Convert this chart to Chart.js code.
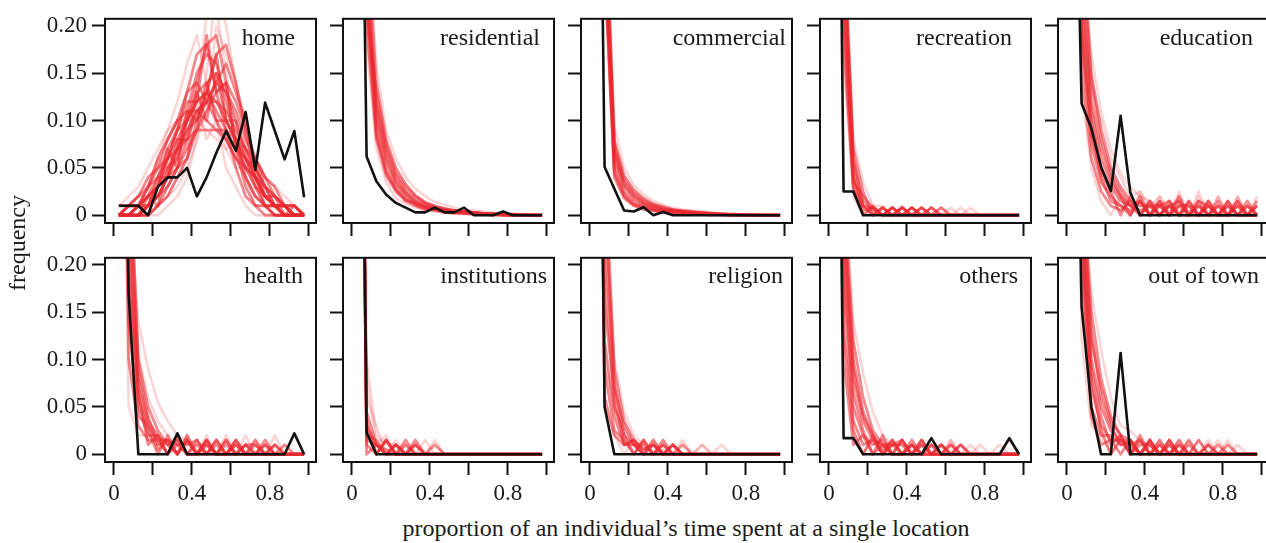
<!DOCTYPE html>
<html>
<head>
<meta charset="utf-8">
<script src="https://cdn.jsdelivr.net/npm/chart.js@4.4.1/dist/chart.umd.min.js"></script>
<style>
  html, body { margin: 0; padding: 0; background: #fff; overflow: hidden; }
  #wrap { position: relative; width: 1266px; height: 543px; overflow: hidden; }
  canvas { position: absolute; }
  .lbl { position: absolute; font-family: "Liberation Serif", "Times New Roman", serif; color: #1a1a1a;
         white-space: nowrap; font-size: 24px; line-height: 24px; }
</style>
</head>
<body>
<div id="wrap"></div>
<script>
// bin centres on the x axis (proportion of time)
const bins = [0.025,0.075,0.125,0.175,0.225,0.275,0.325,0.375,0.425,0.475,0.525,0.575,0.625,0.675,0.725,0.775,0.825,0.875,0.925,0.975];
const xTicks = [0, 0.2, 0.4, 0.6, 0.8, 1.0];
const xTickLabels = ["0", "", "0.4", "", "0.8", ""];
const yTicks = [0, 0.05, 0.1, 0.15, 0.2];
const yTickLabels = ["0", "0.05", "0.10", "0.15", "0.20"];
const categories = ["home","residential","commercial","recreation","education","health","institutions","religion","others","out of town"];

// observed frequencies (black)
const obs_home = [0.01,0.01,0.01,0,0.03, 0.04,0.04,0.05,0.02,0.04, 0.066,0.089,0.068,0.109,0.048, 0.119,0.089,0.059,0.089,0.019];
const obs_residential = [0.82,0.062,0.036,0.022,0.013, 0.008,0.003,0.003,0.008,0.003, 0.003,0.008,0,0,0, 0.004,0,0,0,0];
const obs_commercial = [0.9,0.051,0.028,0.005,0.004, 0.0085,0,0.0034,0,0, 0,0,0,0,0, 0,0,0,0,0];
const obs_recreation = [0.95,0.025,0.025,0,0, 0,0,0,0,0, 0,0,0,0,0, 0,0,0,0,0];
const obs_education = [0.58,0.118,0.092,0.051,0.0255, 0.105,0.024,0,0,0, 0,0,0,0,0, 0,0,0,0,0];
const obs_health = [0.786,0.17,0,0,0, 0,0.022,0,0,0, 0,0,0,0,0, 0,0,0,0.022,0];
const obs_institutions = [0.977,0.023,0,0,0, 0,0,0,0,0, 0,0,0,0,0, 0,0,0,0,0];
const obs_religion = [0.95,0.05,0,0,0, 0,0,0,0,0, 0,0,0,0,0, 0,0,0,0,0];
const obs_others = [0.932,0.017,0.017,0,0, 0,0,0,0,0, 0.017,0,0,0,0, 0,0,0,0.017,0];
const obs_outOfTown = [0.687,0.156,0.05,0,0, 0.107,0,0,0,0, 0,0,0,0,0, 0,0,0,0,0];

// simulated frequencies (red)
const sim_home = [
  [0,0,0.01,0.02,0.03, 0.05,0.07,0.09,0.11,0.12, 0.12,0.11,0.09,0.07,0.05, 0.03,0.02,0.01,0,0],
  [0,0,0,0.01,0.02, 0.04,0.07,0.11,0.15,0.17, 0.16,0.12,0.08,0.04,0.02, 0.01,0,0,0,0],
  [0,0.01,0.02,0.03,0.05, 0.08,0.1,0.13,0.14,0.12, 0.1,0.08,0.06,0.04,0.02, 0.01,0.01,0,0,0],
  [0,0,0,0.01,0.02, 0.03,0.05,0.07,0.09,0.11, 0.13,0.14,0.12,0.09,0.06, 0.04,0.02,0.01,0.01,0],
  [0.01,0.01,0.02,0.04,0.05, 0.06,0.07,0.08,0.09,0.09, 0.09,0.09,0.08,0.07,0.06, 0.04,0.03,0.01,0.01,0],
  [0,0,0.01,0.01,0.04, 0.04,0.08,0.08,0.13,0.1, 0.15,0.1,0.1,0.06,0.05, 0.02,0.02,0,0,0],
  [0,0,0,0.02,0.01, 0.05,0.06,0.1,0.12,0.19, 0.13,0.14,0.07,0.06,0.03, 0.01,0.01,0,0,0],
  [0,0.01,0.01,0.02,0.03, 0.07,0.05,0.11,0.1,0.13, 0.17,0.1,0.08,0.05,0.04, 0.01,0.01,0.01,0,0],
  [0,0,0.01,0.01,0.03, 0.06,0.09,0.1,0.13,0.14, 0.1,0.1,0.08,0.06,0.04, 0.02,0.01,0,0.01,0],
  [0,0,0,0,0.01, 0.03,0.05,0.06,0.1,0.12, 0.14,0.16,0.13,0.1,0.05, 0.03,0.01,0.01,0,0],
  [0,0,0.01,0.02,0.04, 0.06,0.08,0.1,0.12,0.13, 0.12,0.1,0.08,0.06,0.04, 0.02,0.01,0.01,0,0],
  [0,0,0,0.01,0.03, 0.04,0.06,0.09,0.1,0.14, 0.15,0.13,0.1,0.07,0.04, 0.02,0.01,0.01,0,0],
  [0,0.01,0.01,0.03,0.04, 0.07,0.09,0.12,0.12,0.13, 0.11,0.09,0.07,0.05,0.03, 0.02,0.01,0,0,0],
  [0,0,0,0.01,0.02, 0.04,0.05,0.08,0.11,0.12, 0.14,0.13,0.11,0.08,0.06, 0.03,0.01,0.01,0,0],
  [0,0,0,0.01,0.02, 0.04,0.07,0.1,0.14,0.18, 0.19,0.14,0.07,0.03,0.01, 0,0,0,0,0],
  [0,0,0.01,0.02,0.03, 0.06,0.09,0.13,0.17,0.18, 0.13,0.09,0.05,0.02,0.01, 0.01,0,0,0,0],
  [0,0,0,0,0.01, 0.02,0.04,0.06,0.09,0.13, 0.17,0.18,0.14,0.09,0.04, 0.02,0.01,0,0,0],
  [0,0.01,0.01,0.03,0.06, 0.08,0.1,0.11,0.11,0.1, 0.09,0.08,0.06,0.05,0.04, 0.03,0.02,0.01,0.01,0]
];
const simFaint_home = [
  [0,0,0.01,0.03,0.06, 0.09,0.12,0.16,0.19,0.14, 0.1,0.05,0.03,0.01,0, 0,0,0,0,0],
  [0,0,0,0,0.01, 0.02,0.03,0.05,0.08,0.11, 0.2,0.17,0.14,0.1,0.05, 0.02,0.01,0,0,0],
  [0.01,0.01,0.02,0.02,0.06, 0.05,0.1,0.07,0.12,0.08, 0.1,0.07,0.08,0.05,0.06, 0.04,0.03,0.02,0.01,0],
  [0,0,0,0.01,0.01, 0.02,0.04,0.06,0.13,0.21, 0.22,0.15,0.09,0.04,0.01, 0.01,0,0,0,0],
  [0,0,0,0,0, 0.01,0.02,0.04,0.08,0.15, 0.24,0.2,0.14,0.08,0.03, 0.01,0,0,0,0],
  [0.01,0.02,0.03,0.05,0.07, 0.09,0.1,0.1,0.1,0.09, 0.08,0.07,0.05,0.05,0.03, 0.02,0.02,0.01,0.01,0]
];
const sim_residential = [
  [0.55,0.25,0.1,0.055,0.032, 0.02,0.012,0.008,0.006,0.004, 0.003,0.002,0.002,0.001,0.001, 0,0,0,0,0],
  [0.5,0.22,0.13,0.075,0.045, 0.03,0.02,0.013,0.009,0.007, 0.005,0.004,0.003,0.002,0.001, 0.001,0.001,0,0,0],
  [0.6,0.2,0.08,0.042,0.025, 0.015,0.01,0.006,0.007,0.003, 0.004,0.002,0.003,0.001,0.001, 0.001,0,0,0,0],
  [0.48,0.28,0.115,0.065,0.038, 0.024,0.015,0.01,0.007,0.005, 0.003,0.004,0.002,0.001,0.002, 0,0.001,0,0,0],
  [0.57,0.24,0.09,0.048,0.028, 0.017,0.011,0.007,0.005,0.003, 0.002,0.002,0.001,0.001,0, 0.001,0,0,0,0],
  [0.45,0.3,0.14,0.08,0.05, 0.033,0.021,0.014,0.01,0.007, 0.005,0.004,0.003,0.002,0.002, 0.001,0.001,0.001,0,0],
  [0.52,0.26,0.105,0.06,0.035, 0.022,0.014,0.009,0.008,0.005, 0.004,0.003,0.002,0.002,0.001, 0.001,0,0,0,0],
  [0.53,0.23,0.12,0.07,0.042, 0.026,0.017,0.012,0.008,0.006, 0.005,0.003,0.003,0.002,0.001, 0.001,0.001,0,0,0],
  [0.58,0.22,0.085,0.045,0.027, 0.016,0.013,0.009,0.006,0.005, 0.003,0.003,0.002,0.001,0.001, 0,0,0,0,0]
];
const simFaint_residential = [
  [0.4,0.32,0.16,0.09,0.06, 0.04,0.028,0.02,0.014,0.011, 0.008,0.006,0.005,0.004,0.003, 0.002,0.002,0.001,0.001,0],
  [0.65,0.18,0.07,0.035,0.018, 0.012,0.008,0.005,0.004,0.003, 0.002,0.001,0.001,0,0, 0,0,0,0,0]
];
const sim_commercial = [
  [0.6,0.3,0.055,0.025,0.015, 0.01,0.007,0.005,0.004,0.003, 0.002,0.002,0.001,0.001,0.001, 0,0,0,0,0],
  [0.55,0.32,0.07,0.035,0.022, 0.014,0.01,0.007,0.005,0.004, 0.003,0.002,0.002,0.001,0.001, 0.001,0,0,0,0],
  [0.65,0.26,0.04,0.018,0.01, 0.006,0.005,0.003,0.003,0.002, 0.001,0.001,0,0.001,0, 0,0,0,0,0],
  [0.5,0.35,0.08,0.042,0.027, 0.018,0.012,0.009,0.006,0.005, 0.004,0.003,0.002,0.002,0.001, 0.001,0.001,0,0,0],
  [0.62,0.27,0.048,0.022,0.012, 0.009,0.006,0.004,0.003,0.003, 0.002,0.001,0.001,0,0, 0,0,0,0,0],
  [0.58,0.29,0.062,0.03,0.018, 0.012,0.008,0.006,0.004,0.003, 0.003,0.002,0.001,0.001,0.001, 0,0,0,0,0],
  [0.57,0.3,0.066,0.032,0.02, 0.013,0.009,0.006,0.005,0.004, 0.003,0.002,0.002,0.001,0.001, 0,0,0,0,0],
  [0.63,0.27,0.044,0.02,0.011, 0.008,0.005,0.004,0.003,0.002, 0.002,0.001,0.001,0.001,0, 0,0,0,0,0],
  [0.52,0.33,0.075,0.038,0.024, 0.016,0.011,0.008,0.006,0.004, 0.003,0.003,0.002,0.001,0.001, 0.001,0,0,0,0]
];
const simFaint_commercial = [
  [0.45,0.36,0.095,0.05,0.032, 0.022,0.015,0.011,0.008,0.006, 0.005,0.004,0.003,0.002,0.002, 0.001,0.001,0.001,0,0]
];
const sim_recreation = [
  [0.7,0.25,0.04,0.01,0, 0.008,0,0.008,0,0, 0,0,0,0,0, 0,0,0,0,0],
  [0.65,0.28,0.055,0.015,0.005, 0,0.008,0,0.008,0, 0,0,0,0,0, 0,0,0,0,0],
  [0.75,0.21,0.028,0.005,0.008, 0,0,0.008,0,0.008, 0,0,0,0,0, 0,0,0,0,0],
  [0.6,0.3,0.07,0.025,0, 0.008,0,0,0.008,0, 0.008,0,0,0,0, 0,0,0,0,0],
  [0.68,0.26,0.035,0.02,0.008, 0,0.008,0,0,0, 0,0,0,0,0, 0,0,0,0,0],
  [0.72,0.22,0.045,0,0.01, 0,0.008,0,0.008,0, 0,0.008,0,0,0, 0,0,0,0,0],
  [0.62,0.29,0.06,0.01,0.008, 0,0,0.008,0,0, 0.008,0,0,0,0, 0,0,0,0,0],
  [0.78,0.18,0.03,0.01,0, 0.008,0,0,0,0.008, 0,0,0,0,0, 0,0,0,0,0]
];
const simFaint_recreation = [
  [0.55,0.32,0.08,0.035,0.01, 0.01,0,0.01,0,0.008, 0,0.008,0,0.008,0, 0,0,0,0,0],
  [0.8,0.16,0.02,0,0.008, 0,0.008,0,0,0.008, 0,0,0.008,0,0.008, 0,0,0,0,0]
];
const sim_education = [
  [0.5,0.22,0.1,0.05,0.03, 0.015,0.01,0,0.015,0, 0.01,0.015,0,0.01,0, 0.015,0,0.01,0,0],
  [0.45,0.25,0.12,0.07,0.04, 0.02,0.01,0.015,0,0.015, 0,0.01,0.01,0,0.015, 0,0.01,0,0,0],
  [0.6,0.18,0.075,0.035,0.02, 0.01,0.005,0.015,0,0.01, 0.015,0,0.015,0,0, 0.01,0,0.015,0,0.01],
  [0.4,0.28,0.14,0.08,0.045, 0.025,0.01,0.005,0.01,0, 0.015,0,0,0.015,0, 0,0.01,0,0.01,0],
  [0.55,0.2,0.09,0.04,0.015, 0.01,0,0.015,0,0.015, 0,0.01,0,0.015,0.01, 0,0.015,0,0.01,0],
  [0.62,0.15,0.06,0.025,0.01, 0.005,0.015,0,0.015,0, 0.01,0,0.015,0,0.01, 0,0,0.015,0,0.015],
  [0.38,0.3,0.15,0.09,0.05, 0.03,0.015,0.01,0.01,0, 0.01,0,0.01,0,0.01, 0,0,0,0,0],
  [0.48,0.24,0.11,0.06,0.035, 0.02,0,0.02,0,0.01, 0,0.015,0,0,0.015, 0,0.015,0,0.015,0],
  [0.57,0.19,0.085,0.045,0.025, 0,0.02,0,0.01,0.01, 0,0.02,0,0.01,0, 0.01,0,0.01,0,0.01]
];
const simFaint_education = [
  [0.35,0.2,0.14,0.1,0.06, 0.04,0.02,0.025,0.01,0.02, 0.005,0.02,0,0.025,0, 0.02,0,0.02,0,0.01],
  [0.66,0.13,0.05,0.015,0, 0.02,0,0.025,0,0.02, 0,0.025,0,0.02,0, 0.02,0,0.02,0,0.02],
  [0.3,0.28,0.17,0.11,0.07, 0.045,0.03,0.02,0.015,0.01, 0.01,0.005,0.005,0,0, 0,0,0,0,0]
];
const sim_health = [
  [0.6,0.25,0.07,0.03,0.015, 0.015,0,0.015,0,0.01, 0,0.015,0,0,0.01, 0,0,0,0,0],
  [0.55,0.3,0.09,0.04,0.01, 0.015,0.01,0,0.015,0, 0.01,0,0.01,0,0, 0.01,0,0,0,0],
  [0.7,0.18,0.05,0.02,0.02, 0,0.015,0,0.01,0, 0.015,0,0,0.01,0.01, 0,0,0,0,0],
  [0.75,0.14,0.04,0.03,0.005, 0.015,0,0.015,0,0.015, 0,0,0.01,0,0, 0.015,0,0,0,0],
  [0.5,0.33,0.1,0.05,0.025, 0.01,0.015,0,0,0.015, 0,0.01,0,0.01,0, 0,0.01,0,0,0],
  [0.8,0.1,0.03,0.015,0.015, 0,0.02,0,0,0.015, 0,0,0.015,0,0, 0,0.01,0,0,0],
  [0.65,0.22,0.06,0.025,0, 0.02,0,0.015,0,0, 0.015,0,0,0.01,0, 0.01,0,0,0,0],
  [0.58,0.27,0.08,0.035,0.02, 0,0.01,0.01,0.015,0, 0,0.015,0,0,0.015, 0,0,0.01,0,0],
  [0.68,0.2,0.065,0.01,0.02, 0.01,0,0.02,0,0.01, 0,0,0.015,0,0, 0,0,0,0,0]
];
const simFaint_health = [
  [0.85,0.05,0.02,0.02,0.01, 0.01,0,0.02,0,0.02, 0,0.02,0,0.02,0, 0,0.02,0,0,0],
  [0.45,0.35,0.105,0.06,0.035, 0.02,0.01,0.01,0.005,0, 0.015,0,0.015,0,0.015, 0,0,0,0,0],
  [0.4,0.28,0.14,0.09,0.055, 0.035,0.02,0.015,0.01,0.01, 0,0,0,0,0, 0,0,0,0,0]
];
const sim_institutions = [
  [0.96,0.03,0.01,0,0, 0,0,0,0,0, 0,0,0,0,0, 0,0,0,0,0],
  [0.95,0.025,0,0.015,0, 0.01,0,0,0,0, 0,0,0,0,0, 0,0,0,0,0],
  [0.93,0.045,0.01,0.005,0, 0,0.015,0,0,0, 0,0,0,0,0, 0,0,0,0,0],
  [0.97,0.015,0.01,0,0.01, 0,0,0,0,0, 0,0,0,0,0, 0,0,0,0,0],
  [0.94,0.035,0,0.015,0, 0.015,0,0,0.01,0, 0,0,0,0,0, 0,0,0,0,0],
  [0.99,0,0.01,0,0.01, 0,0,0,0,0, 0,0,0,0,0, 0,0,0,0,0],
  [0.955,0.02,0.015,0,0.01, 0,0.01,0,0,0, 0,0,0,0,0, 0,0,0,0,0],
  [0.965,0.01,0,0.015,0, 0,0.01,0,0,0, 0,0,0,0,0, 0,0,0,0,0]
];
const simFaint_institutions = [
  [0.88,0.08,0.01,0.02,0, 0.01,0,0.015,0,0, 0,0,0,0,0, 0,0,0,0,0],
  [0.9,0.06,0.03,0,0.015, 0,0.01,0,0.015,0, 0,0,0,0,0, 0,0,0,0,0],
  [0.85,0.1,0.02,0.01,0.01, 0,0,0,0,0, 0,0,0,0,0, 0,0,0,0,0]
];
const sim_religion = [
  [0.7,0.2,0.05,0.02,0.01, 0,0.015,0,0.01,0, 0,0,0,0,0, 0,0,0,0,0],
  [0.6,0.28,0.07,0.03,0.01, 0.01,0,0.01,0,0, 0,0,0,0,0, 0,0,0,0,0],
  [0.8,0.12,0.04,0.01,0.015, 0.005,0.01,0,0,0.01, 0,0,0,0,0, 0,0,0,0,0],
  [0.55,0.3,0.09,0.035,0.015, 0.005,0.01,0,0,0, 0,0,0,0,0, 0,0,0,0,0],
  [0.85,0.09,0.025,0.015,0, 0.015,0,0.015,0,0, 0,0,0,0,0, 0,0,0,0,0],
  [0.75,0.16,0.06,0.01,0.015, 0,0.01,0,0.01,0, 0,0,0,0,0, 0,0,0,0,0],
  [0.65,0.24,0.075,0.02,0, 0.015,0,0,0.01,0, 0,0,0,0,0, 0,0,0,0,0],
  [0.9,0.06,0.02,0.01,0.01, 0,0,0.01,0,0, 0,0,0,0,0, 0,0,0,0,0]
];
const simFaint_religion = [
  [0.9,0.05,0.02,0,0.015, 0,0.015,0,0.01,0, 0,0.01,0,0.01,0, 0,0,0,0,0],
  [0.5,0.32,0.1,0.045,0.02, 0.01,0,0.005,0,0, 0,0,0,0,0, 0,0,0,0,0],
  [0.8,0.1,0.05,0.025,0.01, 0,0.01,0,0,0.015, 0,0.01,0,0,0, 0,0,0,0,0]
];
const sim_others = [
  [0.6,0.25,0.08,0.035,0.015, 0.01,0,0.015,0,0.01, 0,0,0,0,0, 0,0,0,0,0],
  [0.55,0.27,0.1,0.045,0.02, 0.005,0.015,0,0.01,0, 0,0.01,0,0,0, 0,0,0,0,0],
  [0.7,0.2,0.05,0.02,0.01, 0.015,0,0,0.015,0, 0,0,0.01,0,0, 0,0,0,0,0],
  [0.5,0.28,0.12,0.06,0.025, 0.01,0.01,0,0,0.015, 0,0,0,0.01,0, 0,0,0,0,0],
  [0.75,0.18,0.035,0.01,0.015, 0,0.01,0.015,0,0, 0.01,0,0,0,0, 0,0,0,0,0],
  [0.65,0.22,0.065,0.025,0, 0.02,0,0.015,0,0.015, 0,0.01,0,0,0, 0,0,0,0,0],
  [0.8,0.13,0.025,0,0.02, 0,0.015,0,0.01,0, 0.01,0,0,0,0, 0,0,0,0,0],
  [0.58,0.24,0.09,0.04,0.02, 0,0.01,0.01,0,0.01, 0,0,0.01,0,0, 0,0,0,0,0],
  [0.85,0.1,0.01,0.02,0, 0.01,0,0,0.01,0, 0,0.01,0,0.01,0, 0,0,0,0,0]
];
const simFaint_others = [
  [0.45,0.3,0.14,0.085,0.045, 0.02,0.01,0.01,0,0.015, 0,0,0.015,0,0.01, 0,0,0.01,0,0],
  [0.8,0.14,0.02,0,0.015, 0,0.015,0,0.01,0, 0.01,0,0.015,0,0, 0.01,0,0,0.015,0]
];
const sim_outOfTown = [
  [0.5,0.28,0.1,0.05,0.025, 0.015,0.015,0,0.015,0, 0.01,0,0,0,0, 0,0,0,0,0],
  [0.45,0.3,0.13,0.06,0.03, 0.01,0.01,0.015,0,0.01, 0,0,0,0,0, 0,0,0,0,0],
  [0.6,0.25,0.07,0.03,0.015, 0.015,0,0.015,0,0.01, 0,0.015,0,0,0, 0,0,0,0,0],
  [0.4,0.3,0.15,0.08,0.04, 0.02,0.015,0,0,0.015, 0,0,0,0,0, 0,0,0,0,0],
  [0.65,0.22,0.05,0.02,0.02, 0.01,0.015,0,0.015,0, 0,0.01,0,0.015,0, 0,0,0,0,0],
  [0.55,0.25,0.09,0.04,0.01, 0.02,0,0.02,0,0, 0.015,0,0,0,0, 0,0,0,0,0],
  [0.7,0.2,0.04,0.01,0.015, 0,0.015,0,0.01,0, 0.015,0,0.01,0,0, 0.01,0,0,0,0],
  [0.48,0.27,0.12,0.07,0.035, 0.02,0,0.01,0.01,0, 0,0.01,0,0,0.01, 0,0,0,0,0],
  [0.62,0.23,0.08,0.025,0, 0.015,0.01,0,0.015,0, 0.01,0,0.015,0,0.01, 0,0.01,0,0,0]
];
const simFaint_outOfTown = [
  [0.35,0.3,0.17,0.11,0.06, 0.03,0.025,0.015,0.01,0, 0.015,0,0.015,0,0.015, 0,0.015,0,0,0],
  [0.75,0.12,0.03,0.02,0, 0.02,0,0.015,0,0.015, 0,0.015,0,0.015,0, 0.015,0,0.01,0,0]
];

const observed = [obs_home, obs_residential, obs_commercial, obs_recreation, obs_education,
                  obs_health, obs_institutions, obs_religion, obs_others, obs_outOfTown];
const simulated = [sim_home, sim_residential, sim_commercial, sim_recreation, sim_education,
                   sim_health, sim_institutions, sim_religion, sim_others, sim_outOfTown];
const simulatedFaint = [simFaint_home, simFaint_residential, simFaint_commercial, simFaint_recreation, simFaint_education,
                        simFaint_health, simFaint_institutions, simFaint_religion, simFaint_others, simFaint_outOfTown];

// page layout (px)
const boxLeft = [105, 343, 581, 820, 1058];
const boxTop = [12, 251];
const boxSize = 211;
const titlePad = [21, 14, 6, 19, 16, 13, 7, 9, 13, 10];
const titleBaseline = [45, 283];

const wrap = document.getElementById('wrap');
const serif = '"Liberation Serif", "Times New Roman", serif';

const boxPlugin = {
  id: 'box',
  afterDraw(chart) {
    const { ctx, chartArea: a } = chart;
    ctx.save();
    ctx.strokeStyle = '#111';
    ctx.lineWidth = 2;
    ctx.strokeRect(a.left, a.top, a.right - a.left, a.bottom - a.top);
    ctx.restore();
  }
};

function toPoints(arr) {
  return arr.map((v, k) => ({ x: bins[k], y: v }));
}

categories.forEach((name, i) => {
  const col = i % 5, row = Math.floor(i / 5);
  const cv = document.createElement('canvas');
  cv.width = 100 + boxSize + 12;
  cv.height = 12 + boxSize + 50;
  cv.style.left = (boxLeft[col] - 100) + 'px';
  cv.style.top = (boxTop[row] - 12) + 'px';
  wrap.appendChild(cv);

  const datasets = [{ data: toPoints(observed[i]), borderColor: '#111', borderWidth: 2.6, order: 0, clip: 0 }];
  simulated[i].forEach(s => datasets.push({ data: toPoints(s), borderColor: 'rgba(233,40,48,0.55)', borderWidth: 2.8, order: 1, clip: 0 }));
  simulatedFaint[i].forEach(s => datasets.push({ data: toPoints(s), borderColor: 'rgba(233,40,48,0.2)', borderWidth: 2.5, order: 2, clip: 0 }));

  new Chart(cv, {
    type: 'line',
    data: { datasets },
    options: {
      responsive: false,
      animation: false,
      layout: { padding: { top: 12, right: 12, left: 0, bottom: 0 } },
      plugins: { legend: { display: false }, tooltip: { enabled: false } },
      elements: { point: { radius: 0 }, line: { tension: 0, borderJoinStyle: 'round' } },
      scales: {
        x: {
          type: 'linear', min: -0.046, max: 1.036,
          afterFit(s) { s.height = 50; },
          afterBuildTicks(s) { s.ticks = xTicks.map(v => ({ value: v })); },
          border: { display: false },
          grid: { drawOnChartArea: false, drawTicks: true, tickLength: 13, tickWidth: 2, tickColor: '#111' },
          ticks: {
            autoSkip: false, maxRotation: 0, padding: 5, color: '#1a1a1a',
            font: { family: serif, size: 23 },
            callback: (v, k) => row === 1 ? xTickLabels[k] : ''
          }
        },
        y: {
          min: -0.0082, max: 0.2075,
          afterFit(s) { s.width = 100; },
          afterBuildTicks(s) { s.ticks = yTicks.map(v => ({ value: v })); },
          border: { display: false },
          grid: { drawOnChartArea: false, drawTicks: true, tickLength: 13, tickWidth: 2, tickColor: '#111' },
          ticks: {
            autoSkip: false, padding: 5, color: '#1a1a1a',
            font: { family: serif, size: 23 },
            callback: (v, k) => col === 0 ? yTickLabels[k] : ''
          }
        }
      }
    },
    plugins: [boxPlugin]
  });

  const t = document.createElement('div');
  t.className = 'lbl';
  t.textContent = name;
  t.style.right = (1266 - (boxLeft[col] + boxSize) + titlePad[i]) + 'px';
  t.style.top = (titleBaseline[row] - 20) + 'px';
  wrap.appendChild(t);
});

const xt = document.createElement('div');
xt.className = 'lbl';
xt.textContent = 'proportion of an individual\u2019s time spent at a single location';
xt.style.left = '686px';
xt.style.top = (536 - 20) + 'px';
xt.style.transform = 'translateX(-50%)';
wrap.appendChild(xt);

const yt = document.createElement('div');
yt.className = 'lbl';
yt.textContent = 'frequency';
yt.style.left = '17px';
yt.style.top = '243px';
yt.style.transform = 'translate(-50%, -50%) rotate(-90deg)';
wrap.appendChild(yt);
</script>
</body>
</html>
